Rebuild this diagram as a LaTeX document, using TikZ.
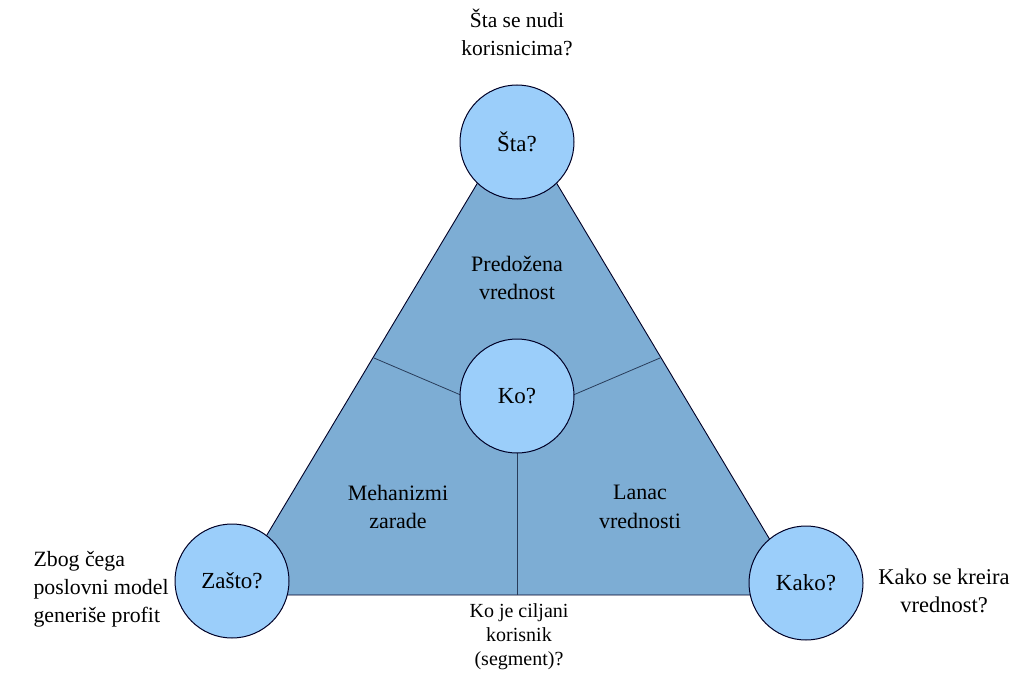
\documentclass[tikz,border=0pt]{standalone}
\usepackage{fontspec}
\setmainfont{Liberation Serif}
\begin{document}
\begin{tikzpicture}[x=1pt,y=-1pt,
  edge/.style={draw=black!85!blue, line width=0.9pt},
  bubble/.style={circle, draw=black!85!blue, line width=1pt, fill=bubblefill,
    minimum size=114pt, inner sep=0pt, font=\fontsize{23}{26}\selectfont},
  label/.style={align=center, font=\fontsize{22}{28.5}\selectfont},
  caption/.style={align=center, font=\fontsize{21.5}{28}\selectfont},
  small/.style={align=center, font=\fontsize{20}{24}\selectfont}]
\definecolor{bubblefill}{RGB}{155,206,250}
\definecolor{trifill}{RGB}{125,173,212}
\definecolor{divider}{RGB}{40,60,90}
\useasboundingbox (0,0) rectangle (1016,676);

% triangle corners and divider anchors
\coordinate (apex) at (517,117);
\coordinate (bl) at (231,595);
\coordinate (br) at (803,595);
\coordinate (ml) at (374,358);
\coordinate (mr) at (660,358);
\coordinate (mb) at (517,595);
\coordinate (hub) at (517,419);

\fill[trifill] (apex) -- (bl) -- (br) -- cycle;
\draw[edge] (apex) -- (bl) -- (br) -- cycle;
\draw[divider, line width=0.8pt] (ml) -- (hub) -- (mr);
\draw[divider, line width=0.8pt] (hub) -- (mb);

% circles
\node[bubble] (sta) at (517,142) {Šta?};
\node[bubble] (ko) at (517,396) {Ko?};
\node[bubble] (zasto) at (232,581) {Zašto?};
\node[bubble] (kako) at (806,583) {Kako?};

% texts inside the triangle
\node[label] (vp) at (517,278) {Predožena\\vrednost};
\node[label] (mz) at (398,507) {Mehanizmi\\zarade};
\node[label] (lv) at (640,507) {Lanac\\vrednosti};

% outer captions
\node[caption] (qsta) at (517,32) {Šta se nudi\\korisnicima?};
\node[caption, font=\fontsize{21.8}{28}\selectfont, align=left, anchor=west] (qzasto) at (30,589) {Zbog čega\\poslovni model\\generiše profit};
\node[caption, font=\fontsize{22.5}{28}\selectfont] (qkako) at (944,591) {Kako se kreira\\vrednost?};
\node[small] (qko) at (519,637) {Ko je ciljani\\korisnik\\(segment)?};
\end{tikzpicture}
\end{document}
